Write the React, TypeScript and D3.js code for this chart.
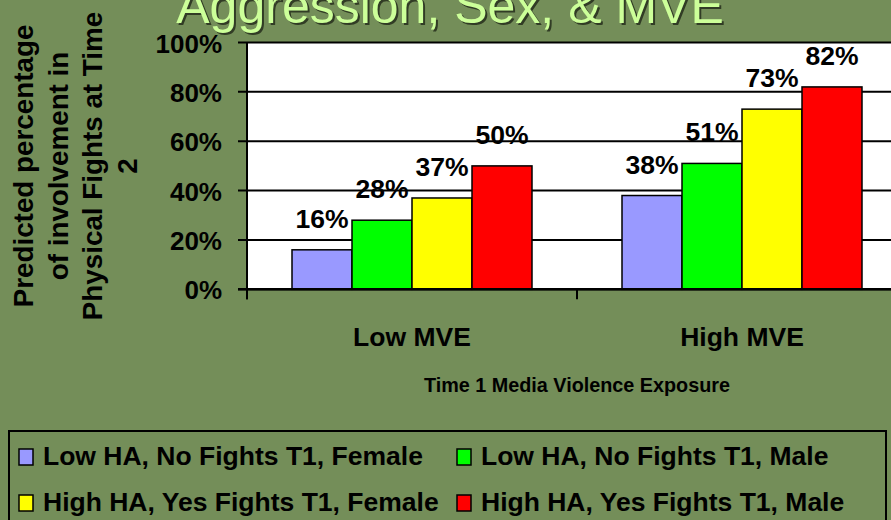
import React, { useEffect, useRef } from "react";
import * as d3 from "d3";

const categories = ["Low MVE", "High MVE"];
const series = [
  "Low HA, No Fights T1, Female",
  "Low HA, No Fights T1, Male",
  "High HA, Yes Fights T1, Female",
  "High HA, Yes Fights T1, Male",
];
const colors = ["#9999ff", "#00ff00", "#ffff00", "#ff0000"];
const lowMVE = [16, 28, 37, 50];
const highMVE = [38, 51, 73, 82];
const yTicks = [0, 20, 40, 60, 80, 100];
const yTitle = ["Predicted percentage", "of involvement in", "Physical Fights at Time", "2"];
const title = "Aggression, Sex, & MVE";
const xTitle = "Time 1 Media Violence Exposure";

const FONT = "'Liberation Sans', Arial, sans-serif";

export default function App() {
  const svgRef = useRef<SVGSVGElement>(null);

  useEffect(() => {
    const svg = d3.select(svgRef.current);
    svg.selectAll("*").remove();

    const width = 891, height = 520;
    const left = 247, right = 907, top = 42.5, bottom = 289.3;

    svg.attr("width", width).attr("height", height);

    // background
    svg.append("rect")
      .attr("width", width).attr("height", height)
      .attr("fill", "#748e59");

    const values = [lowMVE, highMVE];

    const x0 = d3.scaleBand().domain(categories).range([left, right]);
    const x1 = d3.scaleBand<number>()
      .domain(d3.range(series.length))
      .range([0, x0.bandwidth()])
      .paddingOuter(0.75);
    const y = d3.scaleLinear().domain([0, 100]).range([bottom, top]);

    // title with shadow, cut off at the top like the slide
    const t = svg.append("g").style("font-family", FONT).style("font-size", "50px");
    t.append("text")
      .attr("x", 452).attr("y", 25)
      .attr("text-anchor", "middle")
      .attr("fill", "#262e1c")
      .attr("opacity", 0.85)
      .text(title);
    t.append("text")
      .attr("x", 450).attr("y", 23)
      .attr("text-anchor", "middle")
      .attr("fill", "#ccff99")
      .text(title);

    // plot area
    svg.append("rect")
      .attr("x", left).attr("y", top)
      .attr("width", right - left).attr("height", bottom - top)
      .attr("fill", "#ffffff");

    // gridlines + ticks
    svg.append("g").selectAll("line")
      .data(yTicks)
      .join("line")
      .attr("x1", left - 9).attr("x2", right)
      .attr("y1", d => y(d)).attr("y2", d => y(d))
      .attr("stroke", "#000").attr("stroke-width", 2);

    svg.append("g").selectAll("text")
      .data(yTicks)
      .join("text")
      .attr("x", 222).attr("y", d => y(d) + 10)
      .attr("text-anchor", "end")
      .style("font-family", FONT).style("font-size", "26px").style("font-weight", "bold")
      .text(d => d + "%");

    // bars
    const groups = svg.append("g").selectAll("g")
      .data(categories)
      .join("g")
      .attr("transform", d => `translate(${x0(d)},0)`);

    groups.selectAll("rect")
      .data((d, i) => values[i].map((v, j) => ({ v, j })))
      .join("rect")
      .attr("x", d => x1(d.j)!)
      .attr("y", d => y(d.v))
      .attr("width", x1.bandwidth())
      .attr("height", d => bottom - y(d.v))
      .attr("fill", d => colors[d.j])
      .attr("stroke", "#000").attr("stroke-width", 1.5);

    groups.selectAll("text")
      .data((d, i) => values[i].map((v, j) => ({ v, j })))
      .join("text")
      .attr("x", d => x1(d.j)! + x1.bandwidth() / 2)
      .attr("y", d => y(d.v) - 22)
      .attr("text-anchor", "middle")
      .style("font-family", FONT).style("font-size", "26.5px").style("font-weight", "bold")
      .text(d => d.v + "%");

    // axes lines
    svg.append("line")
      .attr("x1", left).attr("x2", left)
      .attr("y1", top).attr("y2", bottom + 10)
      .attr("stroke", "#000").attr("stroke-width", 2);
    svg.append("line")
      .attr("x1", left - 9).attr("x2", right)
      .attr("y1", bottom).attr("y2", bottom)
      .attr("stroke", "#000").attr("stroke-width", 2.5);
    svg.append("g").selectAll("line")
      .data([...categories.map(c => x0(c)!), right])
      .join("line")
      .attr("x1", d => d).attr("x2", d => d)
      .attr("y1", bottom).attr("y2", bottom + 10)
      .attr("stroke", "#000").attr("stroke-width", 2);

    // category labels
    svg.append("g").selectAll("text")
      .data(categories)
      .join("text")
      .attr("x", d => x0(d)! + x0.bandwidth() / 2)
      .attr("y", 346)
      .attr("text-anchor", "middle")
      .style("font-family", FONT).style("font-size", "26.5px").style("font-weight", "bold")
      .text(d => d);

    svg.append("text")
      .attr("x", (left + right) / 2).attr("y", 392)
      .attr("text-anchor", "middle")
      .style("font-family", FONT).style("font-size", "19.8px").style("font-weight", "bold")
      .text(xTitle);

    // y title
    const lineX = [33, 68, 102, 137];
    svg.append("g").selectAll("text")
      .data(yTitle)
      .join("text")
      .attr("transform", (d, i) => `translate(${lineX[i]},166) rotate(-90)`)
      .attr("text-anchor", "middle")
      .style("font-family", FONT).style("font-size", "27.8px").style("font-weight", "bold")
      .text(d => d);

    // legend
    svg.append("rect")
      .attr("x", 9).attr("y", 431)
      .attr("width", 877).attr("height", 110)
      .attr("fill", "none")
      .attr("stroke", "#000").attr("stroke-width", 2);

    const colX = [19, 457];
    const rowY = [465, 511];
    const items = svg.append("g").selectAll("g")
      .data(series)
      .join("g")
      .attr("transform", (d, i) => `translate(${colX[i % 2]},${rowY[Math.floor(i / 2)]})`);
    items.append("rect")
      .attr("x", 0).attr("y", -16)
      .attr("width", 14).attr("height", 16)
      .attr("fill", (d, i) => colors[i])
      .attr("stroke", "#000").attr("stroke-width", 1.5);
    items.append("text")
      .attr("x", 24).attr("y", 0)
      .style("font-family", FONT).style("font-size", "26.5px").style("font-weight", "bold")
      .text(d => d);
  }, []);

  return (
    <svg
      ref={svgRef}
      style={{ position: "absolute", left: 0, top: 0, display: "block" }}
    />
  );
}
